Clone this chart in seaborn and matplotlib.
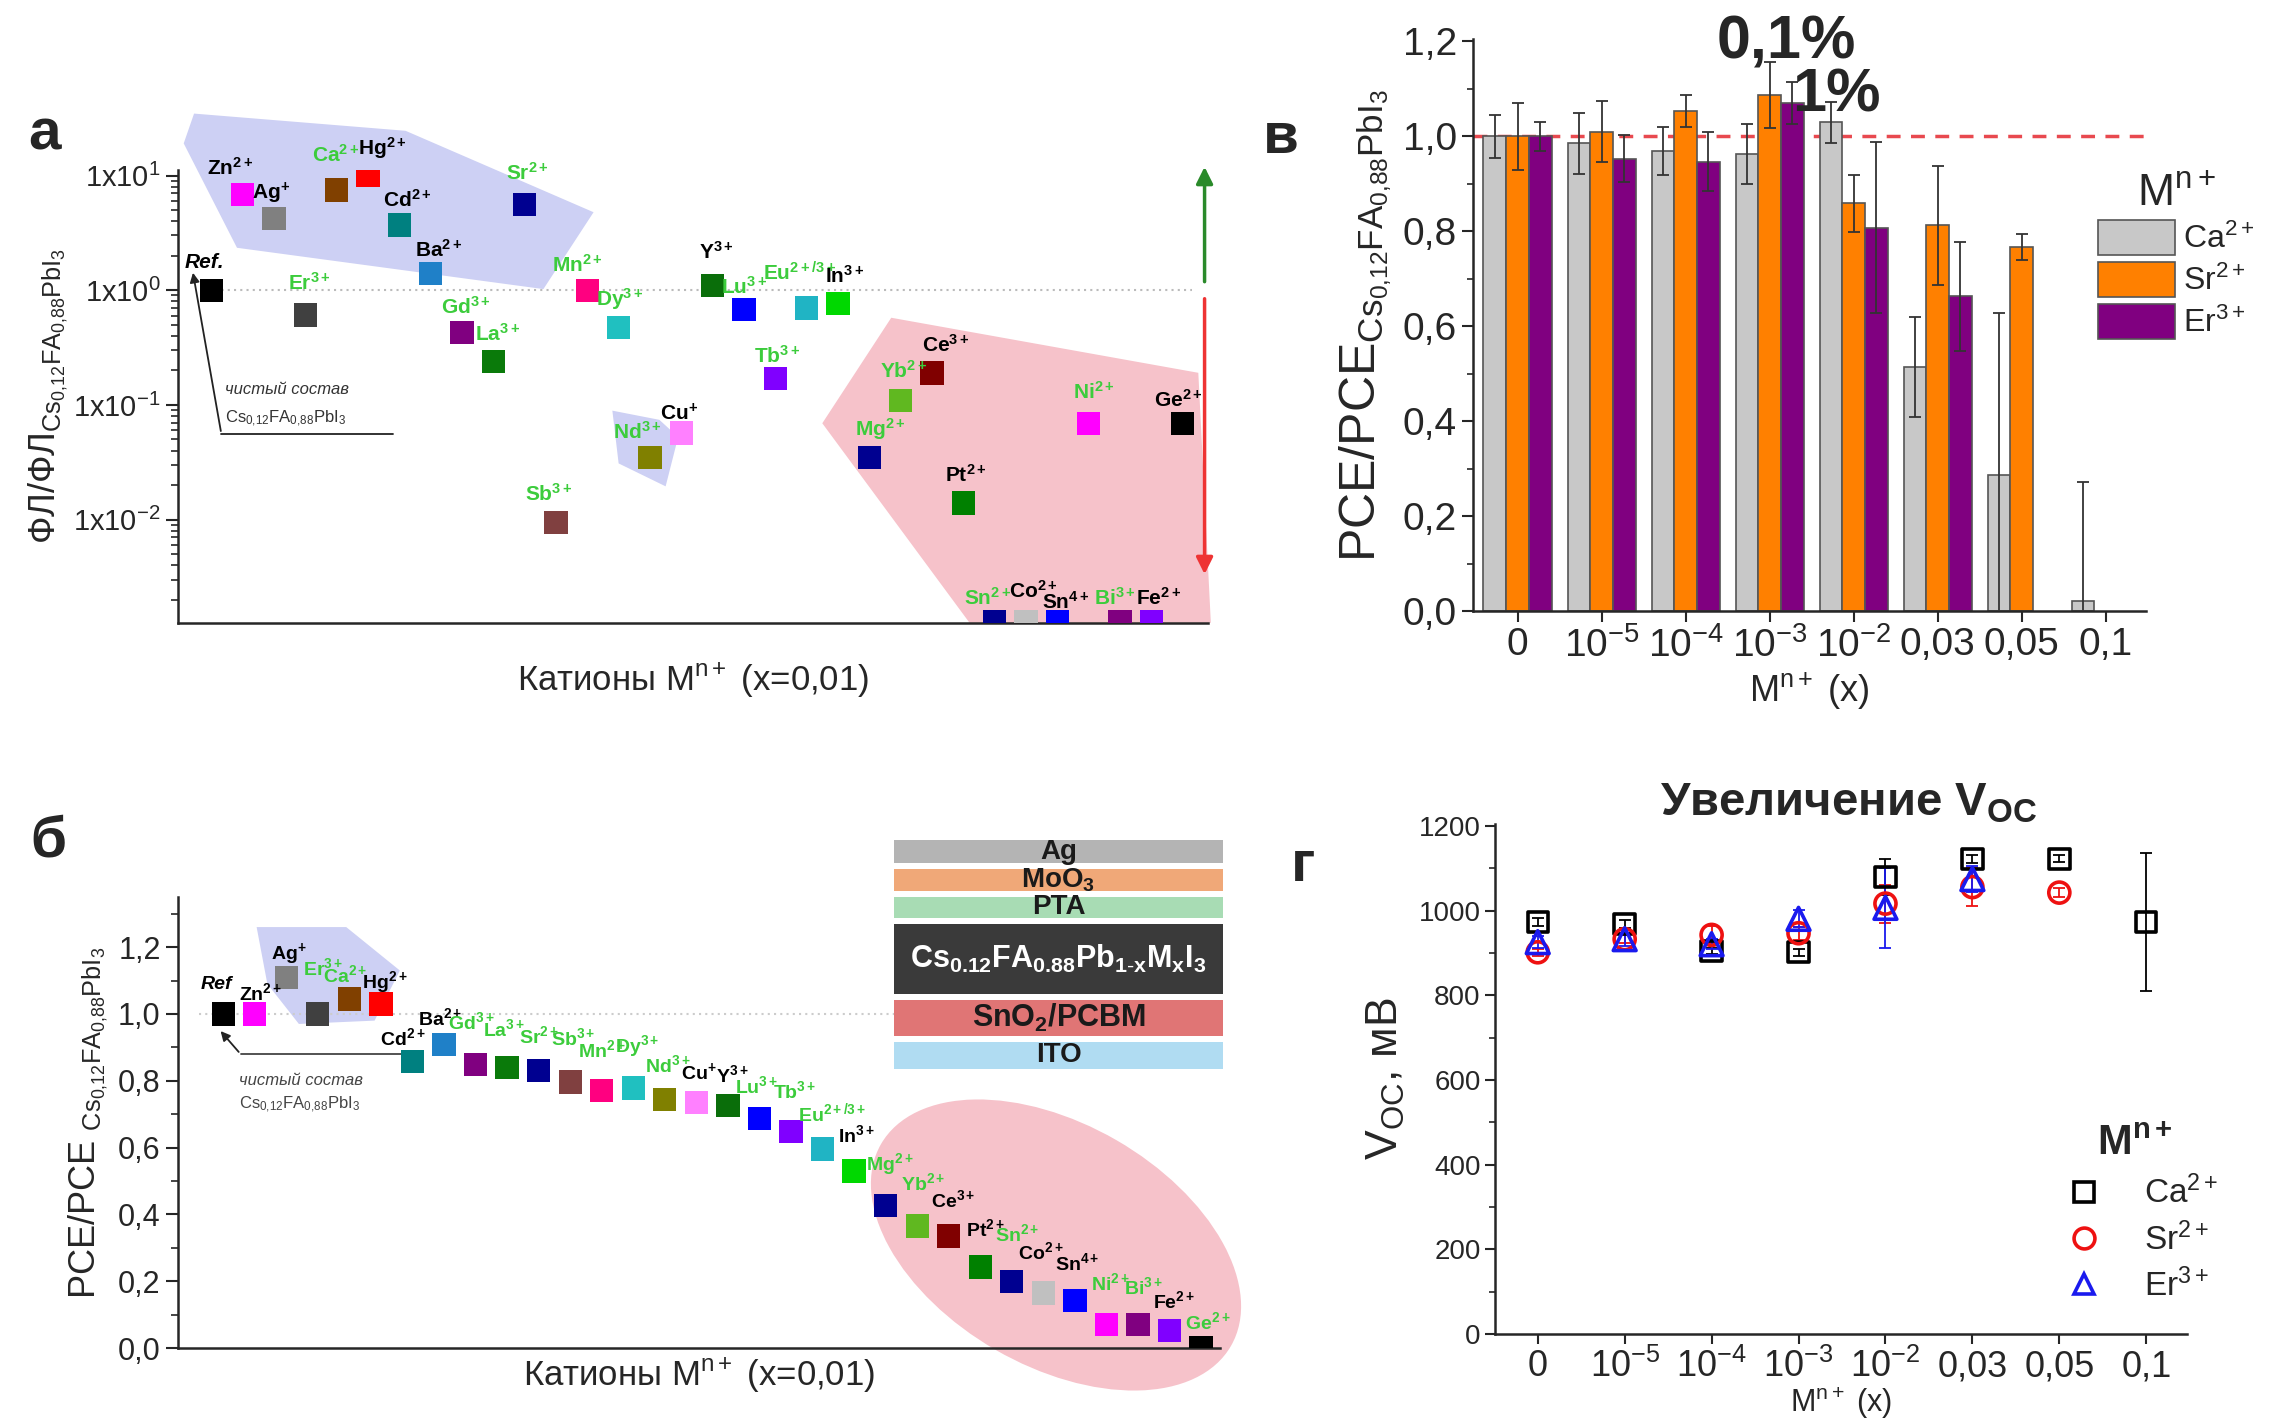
import numpy as np
import pandas as pd
import seaborn as sns
import matplotlib.pyplot as plt
from matplotlib import font_manager
from matplotlib.patches import Polygon, Ellipse, Patch
from matplotlib.lines import Line2D
from matplotlib.ticker import FuncFormatter, MultipleLocator, LogLocator, NullFormatter, FixedLocator

sns.set_style('ticks')
plt.rcParams['font.family'] = ['Liberation Sans', 'DejaVu Sans']
plt.rcParams['mathtext.fontset'] = 'custom'
plt.rcParams['mathtext.rm'] = 'Liberation Sans'
plt.rcParams['mathtext.it'] = 'Liberation Sans:italic'
plt.rcParams['mathtext.bf'] = 'Liberation Sans:bold'
plt.rcParams['axes.linewidth'] = 1.8

fnames = {f.name for f in font_manager.fontManager.ttflist}
narrow = 'Liberation Sans Narrow' if 'Liberation Sans Narrow' in fnames else 'Liberation Sans'

# --- данные: катионы (одинаковый порядок на панелях а и б)
cations = ['Ref', 'Zn', 'Ag', 'Er', 'Ca', 'Hg', 'Cd', 'Ba', 'Gd', 'La', 'Sr', 'Sb', 'Mn', 'Dy',
           'Nd', 'Cu', 'Y', 'Lu', 'Tb', 'Eu', 'In', 'Mg', 'Yb', 'Ce', 'Pt', 'Sn2', 'Co', 'Sn4',
           'Ni', 'Bi', 'Fe', 'Ge']
symbols = ['Ref', 'Zn', 'Ag', 'Er', 'Ca', 'Hg', 'Cd', 'Ba', 'Gd', 'La', 'Sr', 'Sb', 'Mn', 'Dy',
           'Nd', 'Cu', 'Y', 'Lu', 'Tb', 'Eu', 'In', 'Mg', 'Yb', 'Ce', 'Pt', 'Sn', 'Co', 'Sn',
           'Ni', 'Bi', 'Fe', 'Ge']
charges = ['', '2+', '+', '3+', '2+', '2+', '2+', '2+', '3+', '3+', '2+', '3+', '2+', '3+',
           '3+', '+', '3+', '3+', '3+', '2+/3+', '3+', '2+', '2+', '3+', '2+', '2+', '2+', '4+',
           '2+', '3+', '2+', '2+']
sq_colors = ['#000000', '#ff00ff', '#808080', '#404040', '#804000', '#ff0000', '#008080', '#1f80c8',
             '#800080', '#0a7a0a', '#000090', '#804040', '#ff0080', '#20c0c0', '#808000', '#ff80ff',
             '#0a6e0a', '#0000ff', '#8000ff', '#20b4c4', '#00d800', '#000090', '#60b820', '#800000',
             '#008000', '#000090', '#c0c0c0', '#0000ff', '#ff00ff', '#800080', '#8000ff', '#000000']
green_a = {'Ca', 'Sr', 'Er', 'Gd', 'La', 'Sb', 'Mn', 'Dy', 'Nd', 'Lu', 'Eu', 'Tb', 'Yb', 'Mg', 'Ni', 'Sn2', 'Bi'}
green_b = green_a | {'Ge'}

# ФЛ/ФЛ(ref), панель а
pl_ratio = [1.0, 6.8, 4.2, 0.61, 7.5, 10.0, 3.7, 1.4, 0.43, 0.24, 5.6, 0.0094, 1.0, 0.47,
            0.035, 0.057, 1.1, 0.68, 0.17, 0.7, 0.77, 0.035, 0.11, 0.19, 0.014, 0.0013, 0.0013, 0.0013,
            0.069, 0.0013, 0.0013, 0.069]
# PCE/PCE(ref), панель б
pce_ratio = [1.0, 1.0, 1.11, 1.0, 1.045, 1.03, 0.857, 0.909, 0.848, 0.839, 0.83, 0.796, 0.77, 0.778,
             0.743, 0.735, 0.726, 0.687, 0.648, 0.596, 0.53, 0.426, 0.365, 0.335, 0.243, 0.2, 0.165, 0.143,
             0.07, 0.07, 0.052, 0.0]

# панель в и г: концентрации
conc_labels = ['0', '10$^{-5}$', '10$^{-4}$', '10$^{-3}$', '10$^{-2}$', '0,03', '0,05', '0,1']
ions = ['Ca', 'Sr', 'Er']
ion_labels = ['Ca$^{2+}$', 'Sr$^{2+}$', 'Er$^{3+}$']
pce_ca = [1.0, 0.985, 0.969, 0.962, 1.03, 0.515, 0.288, 0.022]
pce_ca_err = [0.045, 0.065, 0.05, 0.063, 0.043, 0.105, 0.34, 0.25]
pce_sr = [1.0, 1.01, 1.053, 1.087, 0.859, 0.8125, 0.767, np.nan]
pce_sr_err = [0.07, 0.065, 0.033, 0.07, 0.06, 0.125, 0.028, np.nan]
pce_er = [1.0, 0.953, 0.947, 1.07, 0.808, 0.663, np.nan, np.nan]
pce_er_err = [0.03, 0.05, 0.063, 0.045, 0.18, 0.115, np.nan, np.nan]

voc_ca = [974, 969, 905, 902, 1080, 1123, 1123, 974]
voc_ca_err = [10, 10, 8, 8, 43, 10, 8, 163]
voc_sr = [902, 933, 943, 947, 1017, 1056, 1043, np.nan]
voc_sr_err = [8, 10, 20, 15, 45, 45, 10, np.nan]
voc_er = [926, 933, 921, 981, 1007, 1075, np.nan, np.nan]
voc_er_err = [15, 15, 12, 20, 95, 30, np.nan, np.nan]

# структура ячейки (снизу вверх)
layers = ['ITO', r'SnO$_\mathbf{2}$/PCBM', r'$\mathbf{Cs_{0.12}FA_{0.88}Pb_{1\text{-}x}M_xI_3}$',
          'PTA', r'MoO$_\mathbf{3}$', 'Ag']
layer_thick = [19, 25, 48, 15, 15, 16]
layer_colors = ['#b0dcf2', '#e07575', '#3a3a3a', '#a8dcb4', '#f0a878', '#b4b4b4']

# смещения подписей (пт)
off_a = [(-5, 20), (-9, 19), (-2, 18), (3, 23), (-1, 25), (10, 20), (6, 18), (6, 17), (3, 18), (3, 20),
         (2, 23), (-5, 21), (-7, 18), (1, 21), (-9, 18), (-2, 14), (3, 24), (0, 16), (1, 16), (-5, 25),
         (5, 20), (8, 20), (2, 21), (10, 20), (2, 20), (-5, 17), (5, 22), (6, 14), (4, 23), (-4, 17),
         (5, 17), (-3, 17)]
off_b = [(-5, 21), (4, 15), (2, 17), (4, 33), (-3, 17), (3, 16), (-7, 17), (-3, 19), (-3, 31), (-2, 28),
         (0, 25), (2, 32), (0, 29), (3, 30), (2, 25), (2, 22), (3, 22), (-2, 23), (3, 29), (7, 26),
         (2, 26), (3, 30), (4, 31), (3, 26), (4, 27), (4, 34), (-2, 29), (2, 27), (3, 30), (4, 27),
         (3, 21), (5, 19)]

GREEN = '#3ccc3c'
palette = dict(zip(cations, sq_colors))
comma = FuncFormatter(lambda v, p: f'{v:.1f}'.replace('.', ','))
formula = r'$_{\mathregular{Cs_{0{,}12}FA_{0{,}88}PbI_3}}$'


def ion_text(sym, ch):
    if ch == '':
        return sym
    return sym + r'$^{\mathbf{' + ch + '}}$'


fig = plt.figure(figsize=(22.83, 14.22), dpi=100)

# ================= панель а =================
ax_a = fig.add_axes([0.078, 0.562, 0.451, 0.3186])
df_a = pd.DataFrame({'pos': range(len(cations)), 'val': pl_ratio, 'cat': cations})
blue_a = [(-0.88, 1.28), (-0.55, 1.54), (6.2, 1.39), (12.2, 0.68), (10.6, 0.01), (0.82, 0.37)]
blue_a2 = [(12.8, -1.05), (14.3, -1.13), (14.9, -1.28), (14.5, -1.71), (13.0, -1.51)]
pink_a = [(21.7, -0.24), (31.5, -0.72), (31.9, -2.9), (24.2, -2.9), (19.5, -1.16)]
for poly, col in [(blue_a, '#cdd0f4'), (blue_a2, '#cdd0f4'), (pink_a, '#f6c2ca')]:
    ax_a.add_patch(Polygon([(x, 10 ** y) for x, y in poly], closed=True, facecolor=col,
                           edgecolor='none', zorder=0, clip_on=False))
ax_a.axhline(1, xmin=0.03, xmax=0.985, color='#bbbbbb', ls=(0, (1, 2)), lw=1.5, zorder=1)
sns.scatterplot(data=df_a, x='pos', y='val', hue='cat', palette=palette, marker='s', s=282,
                linewidth=0, legend=False, ax=ax_a, zorder=3)
ax_a.set_yscale('log')
ax_a.set_ylim(10 ** -2.9, 10 ** 1.05)
ax_a.set_xlim(-1.06, 31.8)
ax_a.set_xticks([])
ax_a.yaxis.set_major_locator(FixedLocator([1e-2, 1e-1, 1e0, 1e1]))
ax_a.set_yticklabels([r'1x10$^{-2}$', r'1x10$^{-1}$', r'1x10$^{0}$', r'1x10$^{1}$'])
ax_a.yaxis.set_minor_locator(LogLocator(base=10, subs=np.arange(2, 10) * 1.0, numticks=20))
ax_a.yaxis.set_minor_formatter(NullFormatter())
ax_a.tick_params(axis='y', which='major', length=9, width=1.5, labelsize=21)
ax_a.tick_params(axis='y', which='minor', length=5, width=1.2)
sns.despine(ax=ax_a)
ax_a.set_xlabel(r'Катионы M$^{\mathregular{n+}}$ (x=0,01)', fontsize=25, labelpad=28)
ax_a.set_ylabel('ФЛ/ФЛ' + formula, fontsize=26, labelpad=2)
for i, cat in enumerate(cations):
    if cat == 'Ref':
        txt, st = 'Ref.', 'italic'
    else:
        txt, st = ion_text(symbols[i], charges[i]), 'normal'
    ax_a.annotate(txt, (i, pl_ratio[i]), xytext=off_a[i], textcoords='offset points',
                  ha='center', va='center', fontsize=15, fontweight='bold', style=st,
                  color=GREEN if cat in green_a else 'black', annotation_clip=False, zorder=4)
ax_a.annotate('', xy=(31.7, 10 ** 1.1), xytext=(31.7, 10 ** 0.05), annotation_clip=False,
              arrowprops=dict(arrowstyle='-|>', color='#2a8a2a', lw=2.5, mutation_scale=25))
ax_a.annotate('', xy=(31.7, 10 ** -2.5), xytext=(31.7, 10 ** -0.05), annotation_clip=False,
              arrowprops=dict(arrowstyle='-|>', color='#ee3333', lw=2.5, mutation_scale=25))
ax_a.plot([5.8, 0.32], [0.056, 0.056], color='#222222', lw=1.3)
ax_a.annotate('', xy=(-0.6, 1.5), xytext=(0.32, 0.056),
              arrowprops=dict(arrowstyle='-|>', color='#222222', lw=1.3, mutation_scale=14))
ax_a.text(0.45, 0.135, 'чистый состав', style='italic', fontsize=12, color='#333333', va='center')
ax_a.text(0.45, 0.075, r'Cs$_{0{,}12}$FA$_{0{,}88}$PbI$_3$', fontsize=12, color='#333333', va='center')

# ================= панель в =================
ax_b = fig.add_axes([0.6452, 0.570, 0.2948, 0.4026])
df_b = pd.DataFrame({'conc': conc_labels * 3,
                     'ion': sum([[ion] * len(conc_labels) for ion in ions], []),
                     'val': pce_ca + pce_sr + pce_er,
                     'err': pce_ca_err + pce_sr_err + pce_er_err}).dropna()
bar_pal = {'Ca': '#c8c8c8', 'Sr': '#ff8000', 'Er': '#800080'}
ax_b.axhline(1, color='#e8494f', ls=(0, (4, 3)), lw=2.5, zorder=0)
sns.barplot(data=df_b, x='conc', y='val', hue='ion', order=conc_labels, hue_order=ions,
            palette=bar_pal, saturation=1, width=0.81, errorbar=None, edgecolor='#555555',
            linewidth=1.2, legend=False, ax=ax_b, zorder=2)
for cont, ion in zip(ax_b.containers, ions):
    sub = df_b[df_b['ion'] == ion]
    xs = [p.get_x() + p.get_width() / 2 for p in cont]
    ax_b.errorbar(xs, sub['val'], yerr=sub['err'], fmt='none', ecolor='#333333',
                  elinewidth=1.3, capsize=4, capthick=1.3, zorder=5)
ax_b.set_ylim(0, 1.205)
ax_b.set_xlim(-0.53, 7.48)
ax_b.yaxis.set_major_locator(MultipleLocator(0.2))
ax_b.yaxis.set_minor_locator(MultipleLocator(0.1))
ax_b.yaxis.set_major_formatter(comma)
ax_b.tick_params(axis='both', which='major', length=8, width=1.5, labelsize=28)
ax_b.tick_params(axis='y', which='minor', length=4, width=1.2)
sns.despine(ax=ax_b)
ax_b.set_xlabel(r'M$^{\mathregular{n+}}$ (x)', fontsize=26, labelpad=4)
ax_b.set_ylabel('PCE/PCE' + formula, fontsize=36, labelpad=6)
ax_b.text(3.2, 1.197, '0,1%', fontsize=44, fontweight='bold', ha='center', va='center', clip_on=False)
ax_b.text(3.8, 1.084, '1%', fontsize=44, fontweight='bold', ha='center', va='center', clip_on=False)
handles_b = [Patch(facecolor=bar_pal[i], edgecolor='#555555', lw=1.2) for i in ions]
leg_b = ax_b.legend(handles_b, ion_labels, title=r'M$^{\mathregular{n+}}$', loc='upper left',
                    bbox_to_anchor=(0.9, 0.8), frameon=False, fontsize=23, title_fontsize=32,
                    handlelength=2.4, handleheight=1.33, labelspacing=0.2, handletextpad=0.25,
                    borderaxespad=0.2)

# ================= панель б =================
ax_c = fig.add_axes([0.078, 0.052, 0.4564, 0.3172])
df_c = pd.DataFrame({'pos': range(len(cations)), 'val': pce_ratio, 'cat': cations})
blue_c = [(1.06, 1.26), (3.9, 1.26), (5.6, 1.13), (4.8, 0.98), (2.4, 0.97), (1.4, 1.09)]
ax_c.add_patch(Polygon(blue_c, closed=True, facecolor='#cdd0f4', edgecolor='none', zorder=0))
ax_c.add_patch(Ellipse((10.56, 1.77), 4.04, 2.42, angle=-30, transform=fig.dpi_scale_trans,
                       facecolor='#f6c2ca', edgecolor='none', zorder=0, clip_on=False))
ax_c.axhline(1, xmin=0.02, color='#cccccc', ls=(0, (1, 2)), lw=1.5, zorder=1)
sns.scatterplot(data=df_c, x='pos', y='val', hue='cat', palette=palette, marker='s', s=282,
                linewidth=0, legend=False, ax=ax_c, zorder=3)
ax_c.set_ylim(0, 1.35)
ax_c.set_xlim(-1.43, 31.6)
ax_c.set_xticks([])
ax_c.yaxis.set_major_locator(FixedLocator([0, 0.2, 0.4, 0.6, 0.8, 1.0, 1.2]))
ax_c.yaxis.set_minor_locator(MultipleLocator(0.1))
ax_c.yaxis.set_major_formatter(comma)
ax_c.tick_params(axis='y', which='major', length=9, width=1.5, labelsize=22)
ax_c.tick_params(axis='y', which='minor', length=5, width=1.2)
sns.despine(ax=ax_c)
ax_c.set_xlabel(r'Катионы M$^{\mathregular{n+}}$ (x=0,01)', fontsize=25, labelpad=6)
ax_c.set_ylabel('PCE/PCE ' + formula, fontsize=26, labelpad=6)
for i, cat in enumerate(cations):
    if cat == 'Ref':
        txt, st = 'Ref', 'italic'
    else:
        txt, st = ion_text(symbols[i], charges[i]), 'normal'
    ax_c.annotate(txt, (i, pce_ratio[i]), xytext=off_b[i], textcoords='offset points',
                  ha='center', va='center', fontsize=14, fontweight='bold', style=st,
                  color=GREEN if cat in green_b else 'black', annotation_clip=False, zorder=4)
ax_c.plot([5.85, 0.55], [0.88, 0.88], color='#444444', lw=1.3)
ax_c.annotate('', xy=(-0.14, 0.955), xytext=(0.55, 0.88),
              arrowprops=dict(arrowstyle='-|>', color='#222222', lw=1.3, mutation_scale=14))
ax_c.text(0.5, 0.8, 'чистый состав', style='italic', fontsize=12, color='#444444', va='center')
ax_c.text(0.5, 0.727, r'Cs$_{0{,}12}$FA$_{0{,}88}$PbI$_3$', fontsize=12, color='#444444', va='center')

# вставка: структура ячейки
ax_in = fig.add_axes([0.3916, 0.2482, 0.1441, 0.161])
gap = 4
bottoms = np.concatenate([[0], np.cumsum(np.array(layer_thick) + gap)[:-1]])
ax_in.bar(0, layer_thick, bottom=bottoms, width=1, color=layer_colors, edgecolor='none')
for lab, b, h, col in zip(layers, bottoms, layer_thick, layer_colors):
    ax_in.text(0, b + h / 2, lab, ha='center', va='center', fontweight='bold',
               fontsize=22 if h > 20 else 20,
               color='white' if col == '#3a3a3a' else '#1a1a1a')
ax_in.set_xlim(-0.5, 0.5)
ax_in.set_ylim(0, bottoms[-1] + layer_thick[-1])
ax_in.axis('off')

# ================= панель г =================
ax_d = fig.add_axes([0.6549, 0.0619, 0.3031, 0.3586])
df_d = pd.DataFrame({'pos': list(range(len(conc_labels))) * 3,
                     'ion': sum([[ion] * len(conc_labels) for ion in ions], []),
                     'val': voc_ca + voc_sr + voc_er,
                     'err': voc_ca_err + voc_sr_err + voc_er_err}).dropna()
voc_style = {'Ca': ('s', 'black', 216), 'Sr': ('o', '#ee1111', 230), 'Er': ('^', '#1a1aee', 270)}
for ion in ions:
    sub = df_d[df_d['ion'] == ion]
    mk, col, sz = voc_style[ion]
    ax_d.errorbar(sub['pos'], sub['val'], yerr=sub['err'], fmt='none', ecolor=col,
                  elinewidth=1.3, capsize=4, capthick=1.3, zorder=2)
    sns.scatterplot(x=sub['pos'], y=sub['val'], marker=mk, s=sz, color=col, facecolor='none',
                    edgecolor=col, linewidth=2.6, ax=ax_d, zorder=3)
ax_d.set_ylim(0, 1205)
ax_d.set_xlim(-0.49, 7.47)
ax_d.set_xticks(range(len(conc_labels)))
ax_d.set_xticklabels(conc_labels, fontfamily=narrow)
ax_d.yaxis.set_major_locator(MultipleLocator(200))
ax_d.yaxis.set_minor_locator(MultipleLocator(100))
ax_d.tick_params(axis='x', which='major', length=7, width=1.5, labelsize=26, pad=4)
ax_d.tick_params(axis='y', which='major', length=7, width=1.5, labelsize=20)
ax_d.tick_params(axis='y', which='minor', length=4, width=1.2)
for t in ax_d.get_yticklabels():
    t.set_fontfamily(narrow)
sns.despine(ax=ax_d)
ax_d.set_xlabel(r'M$^{\mathregular{n+}}$ (x)', fontsize=22, labelpad=0, fontfamily=narrow)
ax_d.set_ylabel(r'V$_{\mathregular{OC}}$, мВ', fontsize=32, labelpad=8)
ax_d.text(0.51, 1.04, r'Увеличение V$_{\mathbf{OC}}$', transform=ax_d.transAxes, ha='center',
          va='center', fontsize=34, fontweight='bold', fontfamily=narrow)
handles_d = [Line2D([], [], marker=voc_style[i][0], ls='none', mfc='none', mec=voc_style[i][1],
                    mew=2.6, ms=15) for i in ions]
leg_d = ax_d.legend(handles_d, ion_labels, title=r'M$^{\mathbf{n+}}$', loc='upper left',
                    bbox_to_anchor=(0.76, 0.47), frameon=False, fontsize=24, title_fontsize=30,
                    handletextpad=0.8, labelspacing=0.35)
leg_d.get_title().set_fontweight('bold')

# подписи панелей
for txt, x, y in [('а', 44, 134), ('в', 1281, 138), ('б', 48, 842), ('г', 1303, 866)]:
    fig.text(x / 2283, 1 - y / 1422, txt, fontsize=42, fontweight='bold', ha='center', va='center')

fig.savefig('out.png', dpi=100)
